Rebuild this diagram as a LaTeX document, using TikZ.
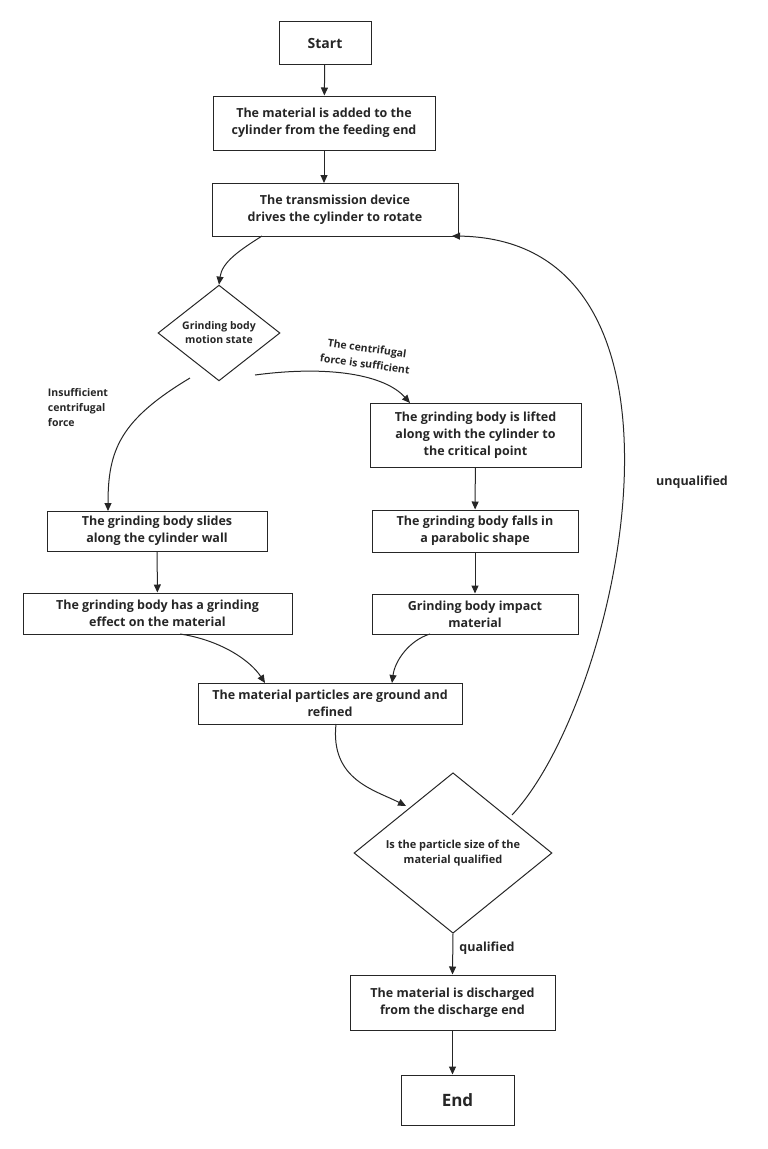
\documentclass[tikz,border=0pt]{standalone}
\usepackage{fontspec}
\setmainfont{Open Sans}
\usetikzlibrary{shapes.geometric,arrows.meta}
\begin{document}
\begin{tikzpicture}[x=1pt,y=-1pt,
  every node/.style={font=\bfseries\fontsize{12.5}{17}\selectfont,text=black!85},
  box/.style={draw=black!85,line width=1pt,fill=white,align=center,inner sep=0pt},
  dia/.style={draw=black!85,line width=1pt,diamond,aspect=1,align=center,inner sep=0pt},
  arr/.style={draw=black!85,line width=1pt,-{Triangle[length=8pt,width=7pt]}},
  lbl/.style={align=left}]
\useasboundingbox (0,0) rectangle (768,1149);
\node[box,minimum width=92,minimum height=43,font=\bfseries\fontsize{14}{16}\selectfont] (start) at (325,43) {Start};
\node[box,minimum width=222,minimum height=54] (b2) at (324,123) {The material is added to the\\cylinder from the feeding end};
\node[box,minimum width=246,minimum height=53] (b3) at (335,209.5) {The transmission device\\drives the cylinder to rotate};
\node[dia,minimum width=122,minimum height=90,font=\bfseries\fontsize{10.5}{14}\selectfont] (d1) at (219,333) {Grinding body\\motion state};
\node[box,minimum width=211,minimum height=64] (lift) at (475.5,435) {The grinding body is lifted\\along with the cylinder to\\the critical point};
\node[box,minimum width=220,minimum height=40] (slide) at (157,531) {The grinding body slides\\along the cylinder wall};
\node[box,minimum width=206,minimum height=42] (fall) at (475,531) {The grinding body falls in\\a parabolic shape};
\node[box,minimum width=269,minimum height=41] (eff) at (157.5,613.5) {The grinding body has a grinding\\effect on the material};
\node[box,minimum width=206,minimum height=40] (imp) at (475,614) {Grinding body impact\\material};
\node[box,minimum width=264,minimum height=41] (grd) at (330,703.5) {The material particles are ground and\\refined};
\node[dia,minimum width=198,minimum height=148,font=\bfseries\fontsize{11}{15}\selectfont] (d2) at (453,853) {Is the particle size of the\\material qualified};
\node[box,minimum width=205,minimum height=55] (dis) at (452.5,1002.5) {The material is discharged\\from the discharge end};
\node[box,minimum width=113,minimum height=50,font=\bfseries\fontsize{17}{20}\selectfont] (end) at (457.5,1100) {End};

\draw[arr] (start) -- (b2);
\draw[arr] (324,150) -- (324,183);
\draw[arr] (262,236) .. controls (240,250) and (222,262) .. (d1.north);
\draw[arr] (190,378) .. controls (120,420) and (108,450) .. (108,511);
\draw[arr] (255,375) .. controls (330,365) and (385,375) .. (410,403);
\draw[arr] (lift) -- (fall);
\draw[arr] (fall) -- (imp);
\draw[arr] (slide) -- (eff);
\draw[arr] (180,634) .. controls (220,640) and (250,660) .. (265,683);
\draw[arr] (430,634) .. controls (410,640) and (395,660) .. (392,683);
\draw[arr] (336,724) .. controls (330,780) and (375,790) .. (406,806);
\draw[arr] (512,815) .. controls (620,700) and (720,240) .. (452,236);
\draw[arr] (d2.south) -- (dis.north);
\draw[arr] (dis.south) -- (dis.south|-end.north);

\node[lbl,font=\bfseries\fontsize{10.5}{15}\selectfont] (l1) at (78,408) {Insufficient\\centrifugal\\force};
\node[lbl,rotate=-8,font=\bfseries\fontsize{10.5}{16}\selectfont] (l2) at (366,356) {\ \ The centrifugal\\force is sufficient};
\node (l3) at (692,482) {unqualified};
\node (l4) at (487,948) {qualified};
\end{tikzpicture}
\end{document}
